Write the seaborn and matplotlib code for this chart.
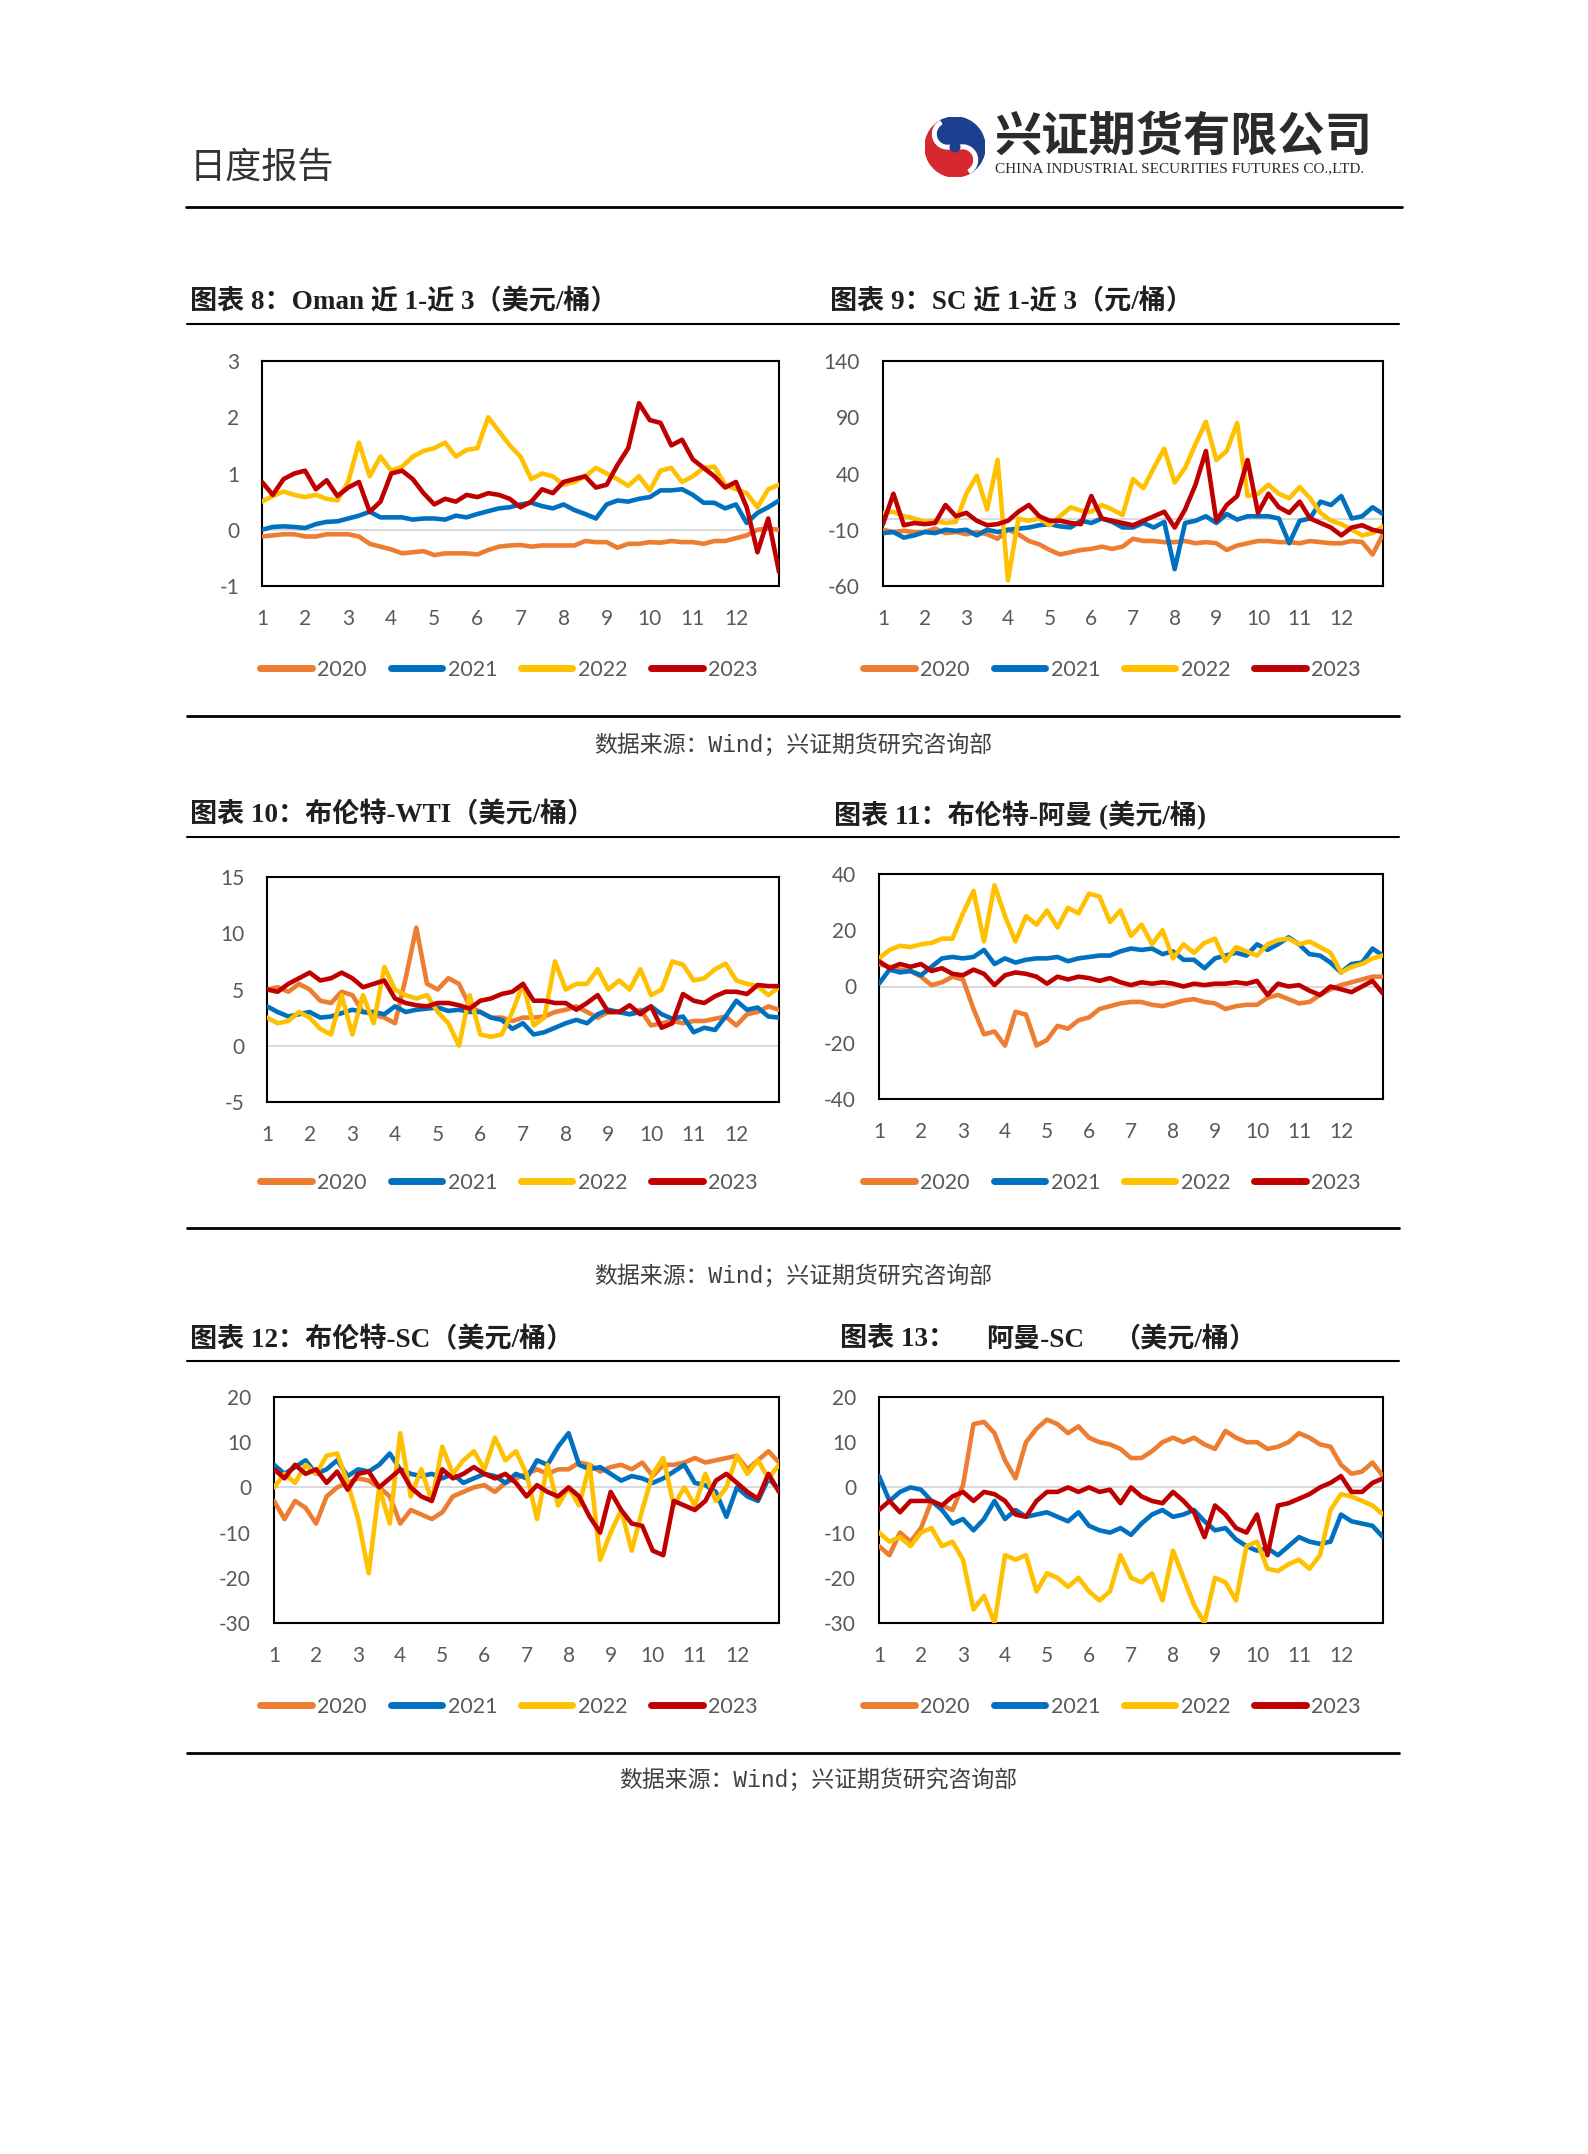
import numpy as np
import pandas as pd
import matplotlib
matplotlib.use("Agg")
import matplotlib.pyplot as plt
from matplotlib.lines import Line2D
from matplotlib.patches import Wedge, Circle
import seaborn as sns

# ----- 基本设置 -----
years = ["2020", "2021", "2022", "2023"]
colors = ["#ED7D31", "#0070C0", "#FFC000", "#C00000"]
month_labels = [str(m) for m in range(1, 13)]

# ----- 图表8: Oman 近1-近3 (每月4个点 + 年末) -----
oman13_2020 = [-0.12, -0.10, -0.08, -0.08,  -0.12, -0.12, -0.08, -0.08,  -0.08, -0.12, -0.25, -0.30,
               -0.35, -0.42, -0.40, -0.38,  -0.45, -0.42, -0.42, -0.42,  -0.44, -0.36, -0.30, -0.28,
               -0.27, -0.30, -0.28, -0.28,  -0.28, -0.28, -0.20, -0.22,  -0.22, -0.32, -0.25, -0.25,
               -0.22, -0.23, -0.20, -0.22,  -0.22, -0.25, -0.20, -0.20,  -0.15, -0.10, 0.00, 0.02,
               0.00]
oman13_2021 = [0.00, 0.05, 0.06, 0.05,  0.03, 0.10, 0.14, 0.15,  0.20, 0.25, 0.32, 0.22,
               0.22, 0.22, 0.18, 0.20,  0.20, 0.18, 0.25, 0.22,  0.28, 0.33, 0.38, 0.40,
               0.45, 0.48, 0.42, 0.38,  0.45, 0.35, 0.28, 0.20,  0.45, 0.52, 0.50, 0.55,
               0.58, 0.70, 0.70, 0.72,  0.62, 0.48, 0.48, 0.38,  0.45, 0.12, 0.30, 0.40,
               0.52]
oman13_2022 = [0.50, 0.60, 0.68, 0.62,  0.58, 0.62, 0.55, 0.52,  0.85, 1.55, 0.95, 1.30,
               1.05, 1.12, 1.30, 1.40,  1.45, 1.55, 1.30, 1.42,  1.45, 2.00, 1.75, 1.50,
               1.30, 0.90, 1.00, 0.95,  0.80, 0.85, 0.95, 1.10,  1.00, 0.90, 0.78, 0.95,
               0.70, 1.05, 1.10, 0.85,  0.95, 1.10, 1.12, 0.80,  0.72, 0.65, 0.40, 0.72,
               0.80]
oman13_2023 = [0.85, 0.62, 0.90, 1.00,  1.05, 0.72, 0.88, 0.60,  0.75, 0.85, 0.32, 0.50,
               1.00, 1.05, 0.90, 0.65,  0.45, 0.55, 0.50, 0.62,  0.58, 0.65, 0.62, 0.55,
               0.40, 0.50, 0.72, 0.65,  0.85, 0.90, 0.95, 0.75,  0.80, 1.15, 1.45, 2.25,
               1.95, 1.90, 1.50, 1.60,  1.25, 1.10, 0.95, 0.75,  0.85, 0.40, -0.40, 0.20,
               -0.75]

# ----- 图表9: SC 近1-近3 -----
sc13_2020 = [-10, -12, -11, -12,  -12, -9, -13, -12,  -14, -12, -14, -18,
             -10, -14, -20, -23,  -28, -32, -30, -28,  -27, -25, -27, -25,
             -18, -20, -20, -21,  -21, -20, -22, -21,  -22, -28, -24, -22,
             -20, -20, -21, -21,  -22, -20, -21, -22,  -22, -20, -21, -32,
             -14]
sc13_2021 = [-13, -12, -17, -15,  -12, -13, -10, -11,  -10, -15, -10, -12,
             -10, -9, -8, -6,  -5, -7, -8, -2,  -4, 0, -3, -8,
             -8, -4, -8, -3,  -45, -4, -2, 2,  -4, 4, -1, 2,
             2, 2, 0, -22,  -2, 0, 15, 12,  20, 0, 2, 10,
             4]
sc13_2022 = [5, 6, 2, 0,  -3, -2, -4, -3,  22, 38, 8, 52,
             -55, 0, -2, 0,  -6, 2, 10, 7,  6, 12, 8, 3,
             35, 27, 45, 62,  32, 45, 66, 86,  52, 60, 85, 20,
             22, 30, 22, 18,  28, 18, 5, -2,  -5, -10, -15, -13,
             -7]
sc13_2023 = [-5, 22, -6, -4,  -5, -4, 12, 2,  5, -2, -6, -5,
             -2, 6, 12, 2,  -2, -2, -4, -5,  20, 0, -2, -4,
             -6, -2, 2, 6,  -8, 8, 30, 60,  -2, 12, 20, 52,
             5, 22, 10, 5,  15, 0, -4, -8,  -15, -8, -6, -10,
             -12]

# ----- 图表10: 布伦特-WTI -----
brent_wti_2020 = [5.0, 5.2, 4.8, 5.5,  5.0, 4.0, 3.8, 4.8,  4.5, 3.0, 2.8, 2.5,
                  2.0, 6.0, 10.5, 5.5,  5.0, 6.0, 5.5, 3.5,  3.0, 2.5, 2.5, 2.2,
                  2.5, 2.5, 2.6, 3.0,  3.2, 3.5, 3.0, 2.5,  3.0, 3.0, 2.8, 3.2,
                  1.8, 2.0, 2.2, 2.0,  2.2, 2.2, 2.4, 2.6,  1.8, 2.8, 3.0, 3.5,
                  3.2]
brent_wti_2021 = [3.5, 3.0, 2.6, 2.8,  3.0, 2.5, 2.6, 2.9,  3.2, 3.0, 3.0, 2.8,
                  3.5, 3.0, 3.2, 3.3,  3.4, 3.1, 3.2, 3.0,  3.0, 2.5, 2.3, 1.5,
                  2.0, 1.0, 1.2, 1.6,  2.0, 2.3, 2.0, 2.8,  3.2, 3.0, 2.8, 3.0,
                  3.5, 2.8, 2.4, 2.6,  1.2, 1.6, 1.4, 2.6,  4.0, 3.2, 3.4, 2.6,
                  2.5]
brent_wti_2022 = [2.5, 2.0, 2.2, 3.0,  2.5, 1.5, 1.0, 4.5,  1.0, 4.5, 2.0, 7.0,
                  5.0, 4.5, 4.2, 4.5,  3.0, 2.0, 0.0, 4.5,  1.0, 0.8, 1.0, 3.0,
                  5.5, 1.8, 2.5, 7.5,  5.0, 5.5, 5.5, 6.8,  5.0, 5.8, 5.0, 6.8,
                  4.5, 5.0, 7.5, 7.2,  5.8, 6.0, 6.8, 7.3,  5.8, 5.5, 5.3, 4.5,
                  5.2]
brent_wti_2023 = [5.0, 4.8, 5.5, 6.0,  6.5, 5.8, 6.0, 6.5,  6.0, 5.2, 5.5, 5.8,
                  4.2, 3.8, 3.6, 3.5,  3.8, 3.8, 3.6, 3.3,  4.0, 4.2, 4.6, 4.8,
                  5.5, 4.0, 4.0, 3.8,  3.8, 3.2, 3.8, 4.5,  3.0, 3.0, 3.6, 2.8,
                  3.5, 1.6, 2.0, 4.6,  4.0, 3.8, 4.4, 4.8,  4.8, 4.6, 5.4, 5.3,
                  5.3]

# ----- 图表11: 布伦特-阿曼 -----
brent_oman_2020 = [8.0, 7.0, 6.0, 5.5,  3.5, 0.5, 1.5, 3.5,  2.5, -8.0, -17.0, -16.0,
                   -21.0, -9.0, -10.0, -21.0,  -19.0, -14.0, -15.0, -12.0,  -11.0, -8.0, -7.0, -6.0,
                   -5.5, -5.5, -6.5, -7.0,  -6.0, -5.0, -4.5, -5.5,  -6.0, -8.0, -7.0, -6.5,
                   -6.5, -4.0, -3.0, -4.5,  -6.0, -5.5, -3.0, -1.0,  0.5, 1.5, 2.5, 3.5,
                   3.5]
brent_oman_2021 = [1.0, 6.0, 5.0, 5.5,  4.0, 7.0, 10.0, 10.5,  10.0, 10.5, 13.0, 8.0,
                   10.0, 8.5, 9.5, 10.0,  10.0, 10.5, 9.0, 10.0,  10.5, 11.0, 11.0, 12.5,
                   13.5, 13.0, 13.5, 11.5,  12.5, 9.5, 9.5, 6.5,  10.0, 11.0, 12.0, 11.0,
                   15.0, 13.0, 15.0, 17.5,  15.0, 11.5, 11.0, 8.5,  5.0, 8.0, 8.5, 13.5,
                   11.0]
brent_oman_2022 = [10.0, 13.0, 14.5, 14.0,  15.0, 15.5, 17.0, 17.0,  26.0, 34.0, 16.0, 36.0,
                   25.0, 16.0, 25.0, 22.0,  27.0, 21.0, 28.0, 26.0,  33.0, 32.0, 23.0, 27.0,
                   18.0, 22.0, 15.0, 20.0,  10.0, 15.0, 12.0, 15.5,  17.0, 9.0, 14.0, 12.5,
                   11.0, 15.0, 16.5, 17.0,  15.0, 16.0, 14.0, 12.0,  5.0, 7.0, 8.0, 10.0,
                   11.0]
brent_oman_2023 = [9.0, 6.5, 8.0, 7.0,  8.0, 5.5, 6.5, 4.5,  4.0, 6.0, 4.5, 0.5,
                   4.0, 5.0, 4.5, 3.5,  1.0, 3.5, 2.5, 3.5,  3.0, 2.0, 3.0, 1.5,
                   0.5, 1.5, 1.0, 1.5,  1.0, 0.0, 1.0, 0.5,  1.0, 1.0, 1.5, 1.0,
                   2.0, -3.0, 1.0, 0.0,  0.5, -1.5, -3.0, 0.0,  -1.0, -2.0, 0.0, 2.0,
                   -2.5]

# ----- 图表12: 布伦特-SC -----
brent_sc_2020 = [-3.0, -7.0, -3.0, -4.5,  -8.0, -2.0, 0.0, 1.0,  2.0, 1.5, 0.0, -2.0,
                 -8.0, -5.0, -6.0, -7.0,  -5.5, -2.0, -1.0, 0.0,  0.5, -1.0, 1.0, 2.0,
                 3.0, 4.0, 3.0, 4.0,  4.0, 5.5, 5.0, 3.5,  4.5, 5.0, 4.0, 5.5,
                 2.5, 5.0, 5.0, 5.5,  6.5, 5.5, 6.0, 6.5,  7.0, 4.0, 6.0, 8.0,
                 5.5]
brent_sc_2021 = [5.0, 3.0, 4.5, 6.0,  3.0, 4.0, 6.0, 2.5,  4.0, 3.5, 5.0, 7.5,
                 4.0, 3.0, 2.5, 3.0,  2.0, 3.0, 1.0, 2.0,  3.0, 2.5, 1.0, 3.0,
                 2.0, 6.0, 5.0, 9.0,  12.0, 5.0, 4.0, 4.5,  3.0, 1.5, 2.5, 2.0,
                 1.0, 2.0, 3.5, 5.0,  1.0, 0.5, -1.0, -6.5,  0.0, -2.0, -3.0, 2.0,
                 -0.5]
brent_sc_2022 = [0.0, 3.0, 1.0, 5.0,  3.0, 7.0, 7.5, 1.0,  -7.0, -19.0, 0.0, -8.0,
                 12.0, -2.0, 4.0, -3.0,  9.0, 3.0, 6.0, 8.0,  4.0, 11.0, 6.0, 8.0,
                 3.0, -7.0, 5.0, -4.0,  0.0, -4.0, 5.0, -16.0,  -10.0, -5.0, -14.0, -5.0,
                 3.0, 6.5, -4.0, 0.0,  -4.0, 3.0, -3.0, 0.0,  7.0, 3.0, 6.0, 2.0,
                 5.0]
brent_sc_2023 = [4.0, 2.0, 5.0, 3.0,  4.0, 1.0, 3.5, -0.5,  3.0, 3.5, 0.0, 2.0,
                 4.0, 0.0, -2.0, -3.0,  4.0, 2.0, 3.0, 4.5,  3.0, 2.0, 3.0, 1.0,
                 -2.0, 0.5, -1.0, -2.0,  0.0, -2.0, -6.5, -10.0,  -1.0, -5.0, -8.0, -8.5,
                 -14.0, -15.0, -3.0, -4.0,  -5.0, -3.0, 1.5, 3.0,  1.0, -1.0, -2.5, 3.0,
                 -1.0]

# ----- 图表13: 阿曼-SC -----
oman_sc_2020 = [-13.0, -15.0, -10.0, -12.0,  -9.0, -3.0, -4.0, -5.0,  0.5, 14.0, 14.5, 12.0,
                6.0, 2.0, 10.0, 13.0,  15.0, 14.0, 12.0, 13.5,  11.0, 10.0, 9.5, 8.5,
                6.5, 6.5, 8.0, 10.0,  11.0, 10.0, 11.0, 9.5,  8.5, 12.5, 11.0, 10.0,
                10.0, 8.5, 9.0, 10.0,  12.0, 11.0, 9.5, 9.0,  5.0, 3.0, 3.5, 5.5,
                2.5]
oman_sc_2021 = [2.5, -3.0, -1.0, 0.0,  -0.5, -3.0, -5.0, -8.0,  -7.0, -9.5, -7.0, -3.0,
                -7.0, -5.0, -6.5, -6.0,  -5.5, -6.5, -7.5, -5.5,  -8.5, -9.5, -10.0, -9.0,
                -10.5, -8.0, -6.0, -5.0,  -6.5, -6.0, -5.0, -7.5,  -9.5, -9.0, -11.5, -13.0,
                -14.0, -13.5, -15.0, -13.0,  -11.0, -12.0, -12.5, -12.0,  -6.0, -7.5, -8.0, -8.5,
                -11.0]
oman_sc_2022 = [-10.0, -12.0, -11.0, -13.0,  -10.0, -9.0, -13.0, -12.0,  -16.0, -27.0, -24.0, -30.0,
                -15.0, -16.0, -15.0, -23.0,  -19.0, -20.0, -22.0, -20.0,  -23.0, -25.0, -23.0, -15.0,
                -20.0, -21.0, -19.0, -25.0,  -14.0, -20.0, -26.0, -30.0,  -20.0, -21.0, -25.0, -13.0,
                -12.0, -18.0, -18.5, -17.0,  -16.0, -18.0, -15.0, -5.0,  -1.5, -2.0, -3.0, -4.0,
                -6.0]
oman_sc_2023 = [-5.0, -3.0, -5.5, -3.0,  -3.0, -3.0, -4.0, -2.0,  -1.0, -3.0, -1.0, -1.5,
                -3.0, -6.0, -6.5, -3.0,  -1.0, -1.0, 0.0, -1.0,  0.0, -1.0, -0.5, -3.5,
                0.0, -2.0, -3.0, -3.5,  -1.0, -3.0, -5.5, -11.0,  -4.0, -6.0, -9.0, -10.0,
                -6.0, -15.0, -4.0, -3.5,  -2.5, -1.5, 0.0, 1.0,  2.5, -1.0, -1.0, 1.0,
                2.0]

# ----- 画布 -----
sns.set_style("white")
plt.rcParams["font.family"] = ["Lato", "Noto Sans CJK SC", "DejaVu Sans"]

W, H = 1588, 2154
fig = plt.figure(figsize=(W / 100, H / 100), dpi=100)
fig.patch.set_facecolor("white")


def rect(x0, y0, x1, y1):
    # 像素坐标(左上原点) -> figure 坐标
    return [x0 / W, 1 - y1 / H, (x1 - x0) / W, (y1 - y0) / H]


def fx(x):
    return x / W


def fy(y):
    return 1 - y / H


def hline(y, x0=187, x1=1399, lw=1.5):
    fig.add_artist(Line2D([fx(x0), fx(x1)], [fy(y), fy(y)], color="black", lw=lw))


title_font = ["Liberation Serif", "Noto Sans CJK SC"]
src_font = ["Liberation Mono", "Noto Sans CJK SC"]


def title(x, y, s):
    fig.text(fx(x), fy(y), s, fontsize=19.5, fontweight="bold", family=title_font,
             color="#1f1f1f", ha="left", va="center")


def source(x, y):
    fig.text(fx(x), fy(y), "数据来源：Wind；兴证期货研究咨询部", fontsize=16.5, family=src_font,
             color="#404040", ha="center", va="center")


def draw_chart(box, series, yticks, legend_center):
    ax = fig.add_axes(rect(*box))
    n = len(series[0])
    months = 1 + np.arange(n) / 4   # 每周一个点
    df = pd.DataFrame({
        "month": np.tile(months, len(series)),
        "value": np.concatenate(series),
        "year": np.repeat(years, n),
    })
    ax.axhline(0, color="#d9d9d9", lw=1.4, zorder=1)
    sns.lineplot(data=df, x="month", y="value", hue="year", hue_order=years,
                 palette=colors, lw=3.3, ax=ax, legend=False, errorbar=None, zorder=3)
    ax.set_xlim(1, 13)
    ax.set_ylim(yticks[0], yticks[-1])
    ax.set_xticks(range(1, 13))
    ax.set_xticklabels(month_labels)
    ax.set_yticks(yticks)
    ax.set_yticklabels([str(v) for v in yticks])
    ax.set_xlabel("")
    ax.set_ylabel("")
    ax.tick_params(length=0, pad=16.5, labelsize=15, labelcolor="#595959")
    for sp in ax.spines.values():
        sp.set_visible(True)
        sp.set_color("black")
        sp.set_linewidth(1.5)
    handles = [Line2D([], [], color=c, lw=5, solid_capstyle="round") for c in colors]
    fig.legend(handles, years, loc="center", bbox_to_anchor=(fx(legend_center[0]), fy(legend_center[1])),
               ncol=4, frameon=False, handlelength=2.4, handletextpad=0.25, columnspacing=1.1,
               fontsize=15.5, labelcolor="#595959")
    return ax


# ----- 页眉 -----
fig.text(fx(190), fy(168), "日度报告", fontsize=26, family=["Noto Sans CJK SC"], color="#333333",
         ha="left", va="center")
fig.text(fx(995), fy(137), "兴证期货有限公司", fontsize=34, fontweight="bold",
         family=["Noto Sans CJK SC"], color="#2b2b2b", ha="left", va="center")
fig.text(fx(995), fy(169), "CHINA INDUSTRIAL SECURITIES FUTURES CO.,LTD.", fontsize=11,
         family=["Liberation Serif"], color="#2b2b2b", ha="left", va="center")
hline(207, 186, 1402, lw=2.0)

# logo: 红蓝双旋
lg = fig.add_axes(rect(925, 117, 985, 177))
lg.set_xlim(-1, 1)
lg.set_ylim(-1, 1)
lg.set_aspect("equal")
lg.axis("off")
red, blue = "#d7282f", "#1d3f8f"
lg.add_patch(Wedge((0, 0), 1.0, 120, 300, color=red))
lg.add_patch(Wedge((0, 0), 1.0, 300, 480, color=blue))
lg.add_patch(Circle((0.25, -0.433), 0.5, color=red))
lg.add_patch(Circle((-0.25, 0.433), 0.5, color=blue))
lg.add_patch(Wedge((0.25, -0.433), 0.5, 300, 480, width=0.12, color="white"))
lg.add_patch(Wedge((-0.25, 0.433), 0.5, 120, 300, width=0.12, color="white"))
lg.add_patch(Circle((0.0, 0.0), 0.16, color=blue))

# ----- 第一组 -----
title(190, 302, "图表 8：Oman 近 1-近 3（美元/桶）")
title(830, 302, "图表 9：SC 近 1-近 3（元/桶）")
hline(324)
draw_chart((262, 361, 779, 586), [oman13_2020, oman13_2021, oman13_2022, oman13_2023],
           [-1, 0, 1, 2, 3], (509, 670))
draw_chart((883, 361, 1383, 586), [sc13_2020, sc13_2021, sc13_2022, sc13_2023],
           [-60, -10, 40, 90, 140], (1112, 670))
hline(716, lw=2.0)
source(793, 745)

# ----- 第二组 -----
title(190, 815, "图表 10：布伦特-WTI（美元/桶）")
title(834, 815, "图表 11：布伦特-阿曼 (美元/桶)")
hline(837)
draw_chart((267, 877, 779, 1102), [brent_wti_2020, brent_wti_2021, brent_wti_2022, brent_wti_2023],
           [-5, 0, 5, 10, 15], (509, 1183))
draw_chart((879, 874, 1383, 1099), [brent_oman_2020, brent_oman_2021, brent_oman_2022, brent_oman_2023],
           [-40, -20, 0, 20, 40], (1112, 1183))
hline(1228, lw=2.0)
source(793, 1276)

# ----- 第三组 -----
title(190, 1340, "图表 12：布伦特-SC（美元/桶）")
title(840, 1340, "图表 13：")
title(986, 1340, "阿曼-SC")
title(1113, 1340, "（美元/桶）")
hline(1361)
draw_chart((274, 1397, 779, 1623), [brent_sc_2020, brent_sc_2021, brent_sc_2022, brent_sc_2023],
           [-30, -20, -10, 0, 10, 20], (509, 1707))
draw_chart((879, 1397, 1383, 1623), [oman_sc_2020, oman_sc_2021, oman_sc_2022, oman_sc_2023],
           [-30, -20, -10, 0, 10, 20], (1112, 1707))
hline(1753, lw=2.0)
source(818, 1780)

fig.savefig("out.png", dpi=100, facecolor="white")
